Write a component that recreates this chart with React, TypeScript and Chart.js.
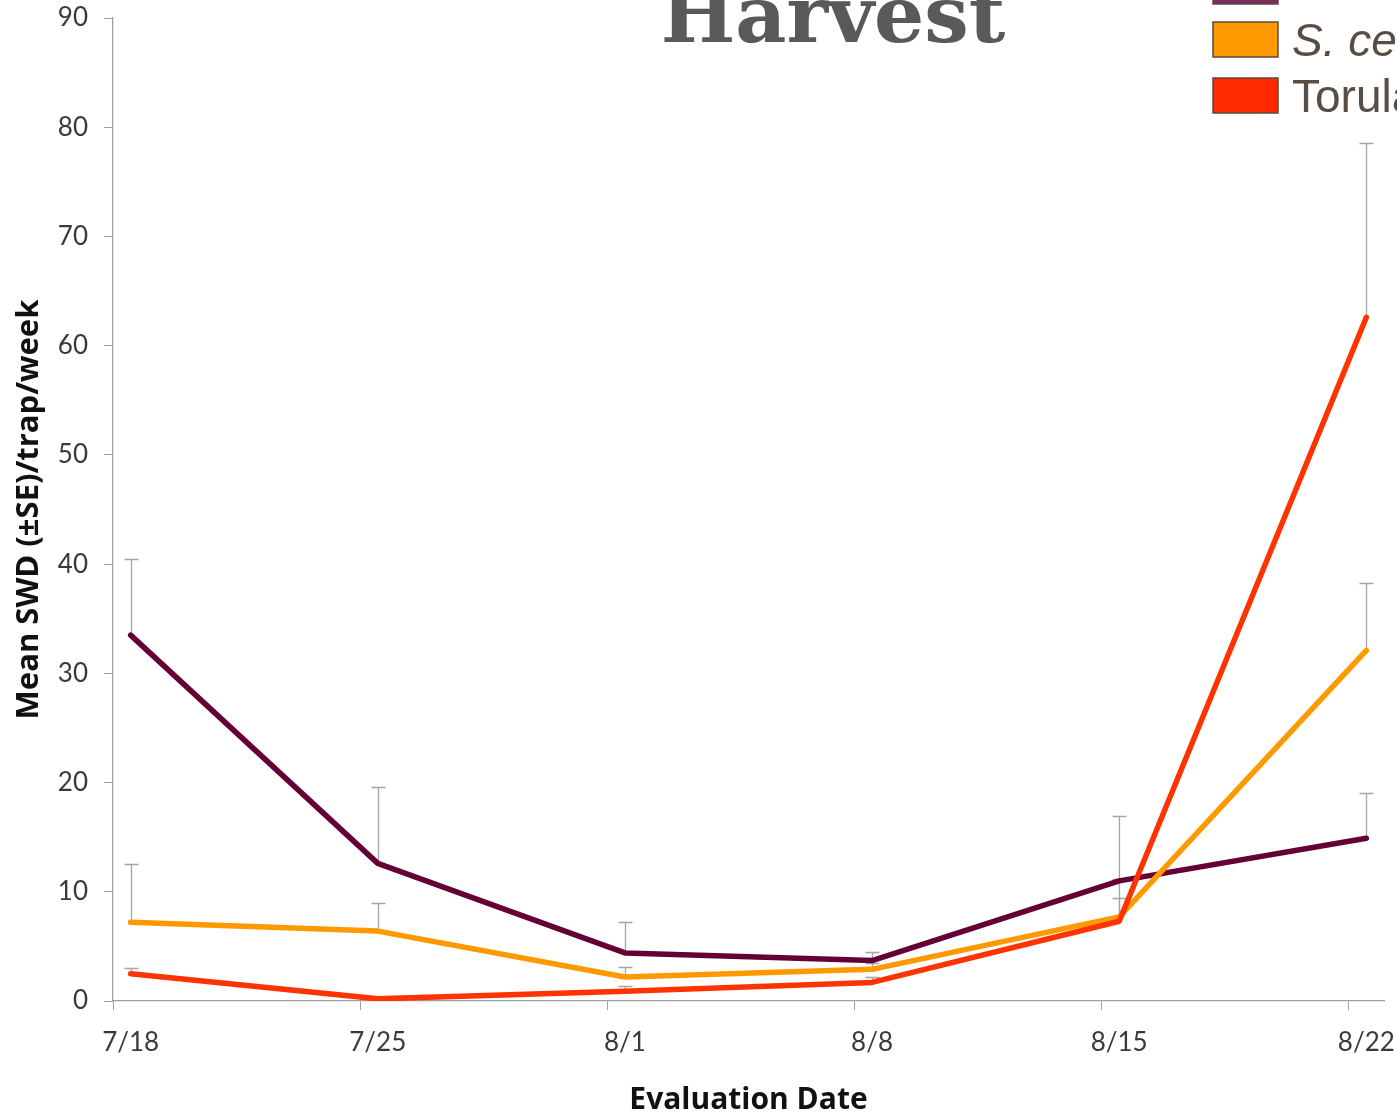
import React, { useEffect, useRef } from "react";
import { Chart, registerables } from "chart.js";

Chart.register(...registerables);

// ---- data ----
const dateLabels = ["7/18", "7/25", "8/1", "8/8", "8/15", "8/22"];
const dayOffsets = [0, 7, 14, 21, 28, 35]; // days since 7/18

const seriesNames = ["Scentry", "S. cerevisiae", "Torula yeast"];
const seriesItalic = [false, true, false];

const scentryMean = [33.5, 12.6, 4.4, 3.7, 11.0, 14.9];
const scentrySE = [7.0, 7.0, 2.8, 0.8, 5.9, 4.1];

const sCerevisiaeMean = [7.2, 6.4, 2.2, 2.9, 7.7, 32.1];
const sCerevisiaeSE = [5.3, 2.6, 0.9, 0.6, 1.7, 6.2];

const torulaMean = [2.5, 0.2, 0.9, 1.7, 7.3, 62.6];
const torulaSE = [0.5, 0.1, 0.5, 0.5, 3.9, 16.0];

const yTicks = [0, 10, 20, 30, 40, 50, 60, 70, 80, 90];

const lineColors = ["#650036", "#FF9900", "#FF3300"];
const boxColors = ["#7c2a5a", "#FF9900", "#FF2A00"];

const W = 1397;
const H = 1114;

const toPoints = (vals: number[]) =>
  vals.map((v, i) => ({ x: dayOffsets[i] + 0.5, y: v }));

const errorBarPlugin = {
  id: "errorBars",
  beforeDatasetsDraw(chart: any) {
    const { ctx, scales } = chart;
    const xs = scales.x;
    const ys = scales.y;
    ctx.save();
    ctx.strokeStyle = "#A5A5A5";
    ctx.lineWidth = 1.3;
    chart.data.datasets.forEach((ds: any) => {
      const se: number[] = ds.se || [];
      ds.data.forEach((pt: any, i: number) => {
        const x = Math.round(xs.getPixelForValue(pt.x)) + 0.5;
        const y0 = ys.getPixelForValue(pt.y);
        const y1 = Math.round(ys.getPixelForValue(pt.y + se[i])) + 0.5;
        ctx.beginPath();
        ctx.moveTo(x, y0);
        ctx.lineTo(x, y1);
        ctx.moveTo(x - 7, y1);
        ctx.lineTo(x + 7, y1);
        ctx.stroke();
      });
    });
    ctx.restore();
  },
};

const overlayPlugin = {
  id: "overlay",
  afterDraw(chart: any) {
    const { ctx } = chart;
    ctx.save();
    // Title (partially cut off at the top)
    ctx.font = "bold 79px 'DejaVu Serif'";
    ctx.fillStyle = "#595959";
    ctx.textAlign = "center";
    ctx.textBaseline = "alphabetic";
    ctx.fillText("Harvest", 833, 42);

    // Legend (partially cut off at the right)
    const boxX = 1213;
    const boxW = 65;
    const boxH = 35;
    const firstTop = -34;
    const step = 56;
    chart.data.datasets.forEach((ds: any, i: number) => {
      const top = firstTop + i * step + (i === 0 ? 3 : 0);
      ctx.fillStyle = ds.backgroundColor;
      ctx.fillRect(boxX, top, boxW, boxH);
      ctx.strokeStyle = "#5a4a3f";
      ctx.lineWidth = 1.5;
      ctx.strokeRect(boxX, top, boxW, boxH);
      ctx.fillStyle = "#5b4c43";
      ctx.textAlign = "left";
      ctx.textBaseline = "alphabetic";
      ctx.font =
        (seriesItalic[i] ? "italic " : "") +
        "46px 'Liberation Sans Narrow', 'Arial Narrow', 'Liberation Sans', sans-serif";
      ctx.fillText(ds.label, 1292, top + boxH - (i === 0 ? 6 : 1));
    });
    ctx.restore();
  },
};

export default function App() {
  const ref = useRef<HTMLCanvasElement>(null);

  useEffect(() => {
    if (!ref.current) return;
    const seriesMeans = [scentryMean, sCerevisiaeMean, torulaMean];
    const seriesSE = [scentrySE, sCerevisiaeSE, torulaSE];
    const chart = new Chart(ref.current, {
      type: "line",
      data: {
        datasets: seriesMeans.map((m, i) => ({
          label: seriesNames[i],
          data: toPoints(m),
          se: seriesSE[i],
          borderColor: lineColors[i],
          backgroundColor: boxColors[i],
          borderWidth: 5.5,
          pointRadius: 0,
          pointHoverRadius: 0,
          tension: 0,
          borderJoinStyle: "round",
          borderCapStyle: "round",
          fill: false,
          order: 2 - i,
        })) as any,
      },
      options: {
        animation: false,
        responsive: false,
        devicePixelRatio: 1,
        layout: { padding: { left: 0, top: 18, right: 13, bottom: 0 } },
        plugins: {
          legend: { display: false },
          tooltip: { enabled: false },
          title: { display: false },
        },
        scales: {
          x: {
            type: "linear",
            min: 0,
            max: 36,
            afterBuildTicks: (scale: any) => {
              scale.ticks = dayOffsets.map((v) => ({ value: v }));
            },
            afterFit: (scale: any) => {
              scale.height = 113;
            },
            ticks: {
              autoSkip: false,
              maxRotation: 0,
              minRotation: 0,
              labelOffset: 17.65,
              padding: 17,
              color: "#3a3a3a",
              font: { family: "Lato", size: 26 },
              callback: (_v: any, i: number) => dateLabels[i],
            },
            grid: {
              drawOnChartArea: false,
              drawTicks: true,
              tickLength: 9,
              color: "#A0A0A0",
            },
            border: { color: "#A0A0A0", width: 1.3 },
            title: {
              display: true,
              text: "Evaluation Date",
              color: "#111111",
              font: { family: "'Open Sans'", size: 30, weight: "bold" },
              padding: { top: 0, bottom: -4 },
            },
          },
          y: {
            type: "linear",
            min: 0,
            max: 90,
            afterBuildTicks: (scale: any) => {
              scale.ticks = yTicks.map((v) => ({ value: v }));
            },
            afterFit: (scale: any) => {
              scale.width = 113;
              scale.paddingTop = 0;
              scale.paddingBottom = 0;
            },
            ticks: {
              padding: 16,
              color: "#3a3a3a",
              font: { family: "Lato", size: 26 },
            },
            grid: {
              drawOnChartArea: false,
              drawTicks: true,
              tickLength: 9,
              color: "#A0A0A0",
            },
            border: { color: "#A0A0A0", width: 1.3 },
            title: {
              display: true,
              text: "Mean SWD (±SE)/trap/week",
              color: "#111111",
              font: { family: "'Open Sans'", size: 31, weight: "bold" },
              padding: { top: 11, bottom: 0 },
            },
          },
        },
      },
      plugins: [errorBarPlugin, overlayPlugin],
    });
    return () => chart.destroy();
  }, []);

  return (
    <div
      style={{
        position: "absolute",
        left: 0,
        top: 0,
        width: W,
        height: H,
        overflow: "hidden",
        background: "#ffffff",
      }}
    >
      <canvas ref={ref} width={W} height={H} style={{ display: "block" }} />
    </div>
  );
}
